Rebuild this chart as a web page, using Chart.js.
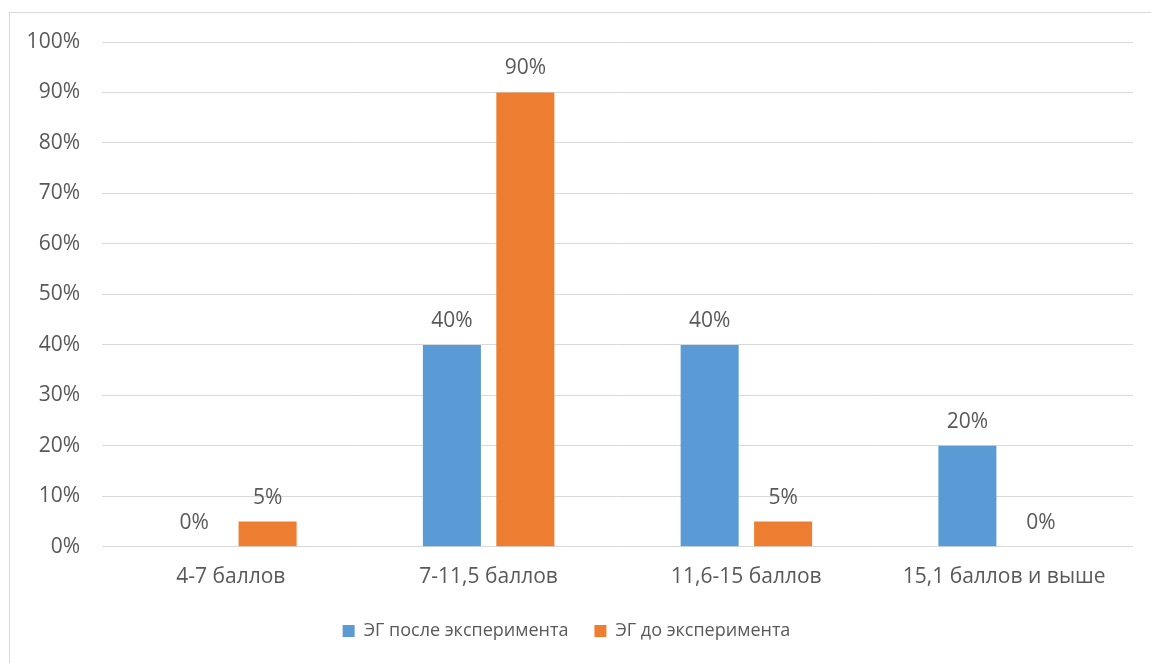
<!DOCTYPE html>
<html>
<head>
<meta charset="utf-8">
<script src="https://cdn.jsdelivr.net/npm/chart.js@4"></script>
<style>
  html, body { margin: 0; padding: 0; background: #fff; }
  #wrap { position: relative; width: 1151px; height: 663px; overflow: hidden; }
  #frame { position: absolute; left: 9px; top: 12px; width: 1200px; height: 700px;
           border-left: 1px solid #d9d9d9; border-top: 1px solid #d9d9d9; }
  canvas { position: absolute; left: 0; top: 0; }
</style>
</head>
<body>
<div id="wrap">
  <div id="frame"></div>
  <canvas id="grafico" width="1151" height="663"></canvas>
</div>
<script>
// Categorías y valores (en %)
const categorias = ['4-7 баллов', '7-11,5 баллов', '11,6-15 баллов', '15,1 баллов и выше'];
const despues = [0, 40, 40, 20];
const antes = [5, 90, 5, 0];
const nombresSeries = ['ЭГ после эксперимента', 'ЭГ до эксперимента'];
const ticksY = [0, 10, 20, 30, 40, 50, 60, 70, 80, 90, 100];

const colorTexto = '#595959';
const fuente = '"Open Sans", Lato, sans-serif';

// Etiquetas de valor encima de cada barra
const etiquetas = {
  id: 'etiquetas',
  afterDatasetsDraw(chart) {
    const ctx = chart.ctx;
    ctx.save();
    ctx.font = '21px ' + fuente;
    ctx.fillStyle = colorTexto;
    ctx.textAlign = 'center';
    ctx.textBaseline = 'middle';
    chart.data.datasets.forEach((ds, i) => {
      chart.getDatasetMeta(i).data.forEach((bar, j) => {
        ctx.fillText(ds.data[j] + '%', bar.x, bar.y - 24);
      });
    });
    ctx.restore();
  }
};

new Chart(document.getElementById('grafico'), {
  type: 'bar',
  data: {
    labels: categorias,
    datasets: [
      { label: nombresSeries[0], data: despues, backgroundColor: '#5b9bd5',
        categoryPercentage: 0.57, barPercentage: 0.79 },
      { label: nombresSeries[1], data: antes, backgroundColor: '#ed7d31',
        categoryPercentage: 0.57, barPercentage: 0.79 }
    ]
  },
  options: {
    responsive: false,
    animation: false,
    layout: { padding: { top: 42, right: 18, left: 0, bottom: 13 } },
    plugins: {
      tooltip: { enabled: false },
      legend: {
        position: 'bottom',
        labels: {
          boxWidth: 12, boxHeight: 12, padding: 26,
          color: colorTexto,
          font: { size: 18, family: fuente }
        }
      }
    },
    scales: {
      x: {
        afterFit(scale) { scale.height -= 12; },
        grid: { display: false, drawTicks: false },
        border: { display: false },
        ticks: { color: colorTexto, font: { size: 21, family: fuente }, padding: 18 }
      },
      y: {
        min: 0, max: 100,
        afterBuildTicks(scale) { scale.ticks = ticksY.map(v => ({ value: v })); },
        afterFit(scale) { scale.width = 102; },
        grid: { color: '#d9d9d9', drawTicks: false },
        border: { display: false },
        ticks: { color: colorTexto, font: { size: 21, family: fuente }, padding: 22,
                 callback: v => v + '%' }
      }
    }
  },
  plugins: [etiquetas]
});
</script>
</body>
</html>
